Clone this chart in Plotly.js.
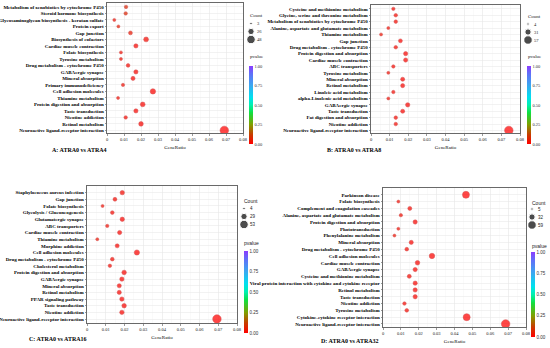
<!DOCTYPE html>
<html><head><meta charset="utf-8">
<script src="https://cdn.plot.ly/plotly-3.0.1.min.js"></script>
<style>html,body{margin:0;padding:0;background:#fff}#chart{width:550px;height:348px}</style>
</head><body><div id="chart"></div>
<script>
// ---------- DATA ----------
const catsA = ["Metabolism of xenobiotics by cytochrome P450","Steroid hormone biosynthesis","Glycosaminoglycan biosynthesis - keratan sulfate","Protein export","Gap junction","Biosynthesis of cofactors","Cardiac muscle contraction","Folate biosynthesis","Tyrosine metabolism","Drug metabolism - cytochrome P450","GABAergic synapse","Mineral absorption","Primary immunodeficiency","Cell adhesion molecules","Thiamine metabolism","Protein digestion and absorption","Taste transduction","Nicotine addiction","Retinol metabolism","Neuroactive ligand-receptor interaction"];
const ratioA = [0.0112,0.011,0.0043,0.0067,0.0138,0.023,0.017,0.0082,0.0082,0.0124,0.017,0.0153,0.0094,0.027,0.0065,0.021,0.017,0.011,0.020,0.069];
const countA = [8,8,3,5,10,16,12,6,6,9,12,11,7,19,5,15,12,8,14,48];
const pvalA  = [0.08,0.08,0.03,0.06,0.05,0.02,0.01,0.03,0.03,0.02,0.01,0.01,0.03,0.005,0.03,0.01,0.01,0.02,0.01,0.001];
const legCountA = [3,26,48];

const catsB = ["Cysteine and methionine metabolism","Glycine, serine and threonine metabolism","Metabolism of xenobiotics by cytochrome P450","Alanine, aspartate and glutamate metabolism","Thiamine metabolism","Gap junction","Drug metabolism - cytochrome P450","Protein digestion and absorption","Cardiac muscle contraction","ABC transporters","Tyrosine metabolism","Mineral absorption","Retinol metabolism","Linoleic acid metabolism","alpha-Linolenic acid metabolism","GABAergic synapse","Taste transduction","Fat digestion and absorption","Nicotine addiction","Neuroactive ligand-receptor interaction"];
const ratioB = [0.012,0.0133,0.0133,0.0093,0.0054,0.0158,0.0133,0.0186,0.0186,0.012,0.0093,0.017,0.017,0.012,0.0093,0.0197,0.017,0.0133,0.0133,0.074];
const countB = [9,10,10,7,4,12,10,14,14,9,7,13,13,9,7,15,13,10,10,57];
const pvalB  = [0.02,0.02,0.02,0.03,0.04,0.01,0.02,0.01,0.01,0.02,0.03,0.01,0.01,0.02,0.03,0.01,0.01,0.02,0.02,0.001];
const legCountB = [4,31,57];

const catsC = ["Staphylococcus aureus infection","Gap junction","Folate biosynthesis","Glycolysis / Gluconeogenesis","Glutamatergic synapse","ABC transporters","Cardiac muscle contraction","Thiamine metabolism","Morphine addiction","Cell adhesion molecules","Drug metabolism - cytochrome P450","Cholesterol metabolism","Protein digestion and absorption","GABAergic synapse","Mineral absorption","Retinol metabolism","PPAR signaling pathway","Taste transduction","Nicotine addiction","Neuroactive ligand-receptor interaction"];
const ratioC = [0.0188,0.0149,0.0083,0.0135,0.0188,0.0108,0.0174,0.0055,0.0161,0.0266,0.0135,0.0122,0.0198,0.0186,0.0172,0.0172,0.0186,0.0198,0.0186,0.0693];
const countC = [14,11,6,10,14,8,13,4,12,20,10,9,15,14,13,13,14,15,14,53];
const pvalC  = [0.02,0.02,0.03,0.02,0.01,0.03,0.01,0.04,0.01,0.005,0.02,0.02,0.01,0.01,0.01,0.01,0.01,0.01,0.01,0.001];
const legCountC = [4,29,53];

const catsD = ["Parkinson disease","Folate biosynthesis","Complement and coagulation cascades","Alanine, aspartate and glutamate metabolism","Protein digestion and absorption","Phototransduction","Phenylalanine metabolism","Mineral absorption","Drug metabolism - cytochrome P450","Cell adhesion molecules","Cardiac muscle contraction","GABAergic synapse","Cysteine and methionine metabolism","Viral protein interaction with cytokine and cytokine receptor","Retinol metabolism","Taste transduction","Nicotine addiction","Tyrosine metabolism","Cytokine-cytokine receptor interaction","Neuroactive ligand-receptor interaction"];
const ratioD = [0.0464,0.0086,0.015,0.010,0.018,0.0086,0.0064,0.0158,0.0133,0.0274,0.0193,0.018,0.0147,0.018,0.018,0.018,0.012,0.0133,0.0468,0.0686];
const countD = [40,7,13,9,15,7,5,14,11,24,17,15,13,15,15,15,10,11,40,59];
const pvalD  = [0.001,0.03,0.02,0.03,0.01,0.03,0.04,0.01,0.02,0.005,0.01,0.01,0.02,0.01,0.01,0.01,0.02,0.02,0.001,0.001];
const legCountD = [5,32,59];

const xTickVals = [0,0.01,0.02,0.03,0.04,0.05,0.06,0.07,0.08];
const xTickText = ["0","0.01","0.02","0.03","0.04","0.05","0.06","0.07","0.08"];
const cbTickVals = [0,0.25,0.5,0.75,1];
const captions = ["A: ATRA0 vs ATRA4","B: ATRA0 vs ATRA8","C: ATRA0 vs ATRA16","D: ATRA0 vs ATRA32"];

// ---------- LAYOUT / STYLE ----------
const W = 550, H = 348;
const px = v => v / W, py = v => 1 - v / H;
const serif = "Liberation Serif, Times New Roman, serif";
const scale = [[0,"#FF0000"],[0.12,"#C83C00"],[0.25,"#7FA000"],[0.4,"#10E040"],[0.5,"#00F0B0"],[0.6,"#00E0F0"],[0.75,"#3AA8F0"],[0.9,"#6070F8"],[1,"#8A3CFF"]];

const panels = [
  {cats:catsA, r:ratioA, n:countA, p:pvalA, leg:legCountA, cap:captions[0],
   xd:[107,243], yd:[3,133], yr:[19.4,-0.6], cb:[249,66,144], countT:[248,16], pT:[248,57], legY:[19.5,43.5], legX:[247,267], capXY:[79,150], sans:false},
  {cats:catsB, r:ratioB, n:countB, p:pvalB, leg:legCountB, cap:captions[1],
   xd:[371,520], yd:[5,133], yr:[19.4,-0.6], cb:[527,66,144], countT:[526,17], pT:[526,57], legY:[20,44], legX:[524,544], capXY:[354,150], sans:false},
  {cats:catsC, r:ratioC, n:countC, p:pvalC, leg:legCountC, cap:captions[2],
   xd:[87,237], yd:[186,323], yr:[19.6,-1.0], cb:[244,251,333], countT:[242,201], pT:[242,243], legY:[204.5,228.5], legX:[240,260], capXY:[58,339], sans:true},
  {cats:catsD, r:ratioD, n:countD, p:pvalD, leg:legCountD, cap:captions[3],
   xd:[383,526], yd:[188,327], yr:[19.45,-1.0], cb:[531,252,337], countT:[530,203], pT:[530,246], legY:[205,229], legX:[528,548], capXY:[350,341], sans:true}
];

const data = [];
const layout = {width:W, height:H, margin:{l:0,r:0,t:0,b:0}, paper_bgcolor:"#fff", plot_bgcolor:"#fff",
  showlegend:false, annotations:[], font:{family:serif, color:"#000"}};

panels.forEach((P, i) => {
  const k = i + 1, lk = i + 5;
  const xa = k === 1 ? "x" : "x" + k, ya = k === 1 ? "y" : "y" + k;
  const lxa = "x" + lk, lya = "y" + lk;
  const maxD = 8.5;
  const sref = 2 * Math.max(...P.leg) / (maxD * maxD);
  const legFont = P.sans ? "Liberation Sans, Arial, sans-serif" : serif;

  data.push({type:"scatter", mode:"markers", x:P.r, y:P.cats, xaxis:xa, yaxis:ya,
    marker:{size:P.n, sizemode:"area", sizeref:sref, sizemin:1.5, color:P.p, cmin:0, cmax:1,
      colorscale:scale, opacity:0.72, line:{width:0.6, color:"rgba(200,20,20,0.85)"},
      showscale:true,
      colorbar:{x:px(P.cb[0]), xanchor:"left", xref:"paper", y:py(P.cb[1]), yanchor:"top", yref:"paper",
        len:(P.cb[2]-P.cb[1])/H, lenmode:"fraction", thickness:3.5, thicknessmode:"pixels",
        xpad:0, ypad:0, outlinewidth:0, ticks:"", tickvals:cbTickVals, tickformat:".2f",
        tickfont:{size:4.5, family:legFont, color:"#333"}}}});

  // size legend keys
  data.push({type:"scatter", mode:"markers", x:P.leg.map(() => 0.2), y:P.leg.map((_, j) => j),
    xaxis:lxa, yaxis:lya, hoverinfo:"skip",
    marker:{size:P.leg, sizemode:"area", sizeref:sref, sizemin:1.2, color:"#000"}});

  const axKeyX = k === 1 ? "xaxis" : "xaxis" + k;
  const axKeyY = k === 1 ? "yaxis" : "yaxis" + k;
  layout[axKeyX] = {domain:[px(P.xd[0]), px(P.xd[1])], anchor:ya, range:[0,0.08],
    tickmode:"array", tickvals:xTickVals, ticktext:xTickText, ticks:"outside", ticklen:2, tickwidth:0.5, tickcolor:"#333",
    tickfont:{size:4.5, family:serif, color:"#222"},
    showgrid:true, gridcolor:"#E6E6E6", gridwidth:0.5,
    minor:{dtick:0.005, tick0:0, showgrid:true, gridcolor:"#F3F3F3", gridwidth:0.4},
    showline:true, mirror:true, linecolor:"#444", linewidth:0.8, zeroline:false,
    title:{text:"GeneRatio", font:{size:5, family:serif, color:"#000"}, standoff:4}};
  layout[axKeyY] = {domain:[py(P.yd[1]), py(P.yd[0])], anchor:xa, type:"category",
    categoryorder:"array", categoryarray:P.cats, range:P.yr,
    tickmode:"array", tickvals:P.cats, ticktext:P.cats, ticks:"outside", ticklen:1.5, tickwidth:0.5, tickcolor:"#333",
    tickfont:{size:5, family:serif, weight:"bold", color:"#000"},
    showgrid:true, gridcolor:"#E6E6E6", gridwidth:0.5,
    showline:true, mirror:true, linecolor:"#444", linewidth:0.8, zeroline:false};

  layout["xaxis" + lk] = {domain:[px(P.legX[0]), px(P.legX[1])], anchor:lya, range:[0,1], visible:false, fixedrange:true};
  layout["yaxis" + lk] = {domain:[py(P.legY[1]), py(P.legY[0])], anchor:lxa, range:[2.5,-0.5], visible:false, fixedrange:true};

  P.leg.forEach((c, j) => layout.annotations.push({xref:lxa, yref:lya, x:0.42, y:j, text:String(c),
    showarrow:false, xanchor:"left", yanchor:"middle", font:{size:4.5, family:legFont, color:"#222"}}));
  layout.annotations.push({xref:"paper", yref:"paper", x:px(P.countT[0]), y:py(P.countT[1]), text:"Count",
    showarrow:false, xanchor:"left", yanchor:"middle", font:{size:5, family:legFont, color:"#222"}});
  layout.annotations.push({xref:"paper", yref:"paper", x:px(P.pT[0]), y:py(P.pT[1]), text:"pvalue",
    showarrow:false, xanchor:"left", yanchor:"middle", font:{size:5, family:legFont, color:"#222"}});
  layout.annotations.push({xref:"paper", yref:"paper", x:px(P.capXY[0]), y:py(P.capXY[1]), text:P.cap,
    showarrow:false, xanchor:"center", yanchor:"middle", font:{size:6, family:serif, weight:"bold", color:"#000"}});
});

Plotly.newPlot("chart", data, layout, {displayModeBar:false, staticPlot:true});
</script></body></html>
